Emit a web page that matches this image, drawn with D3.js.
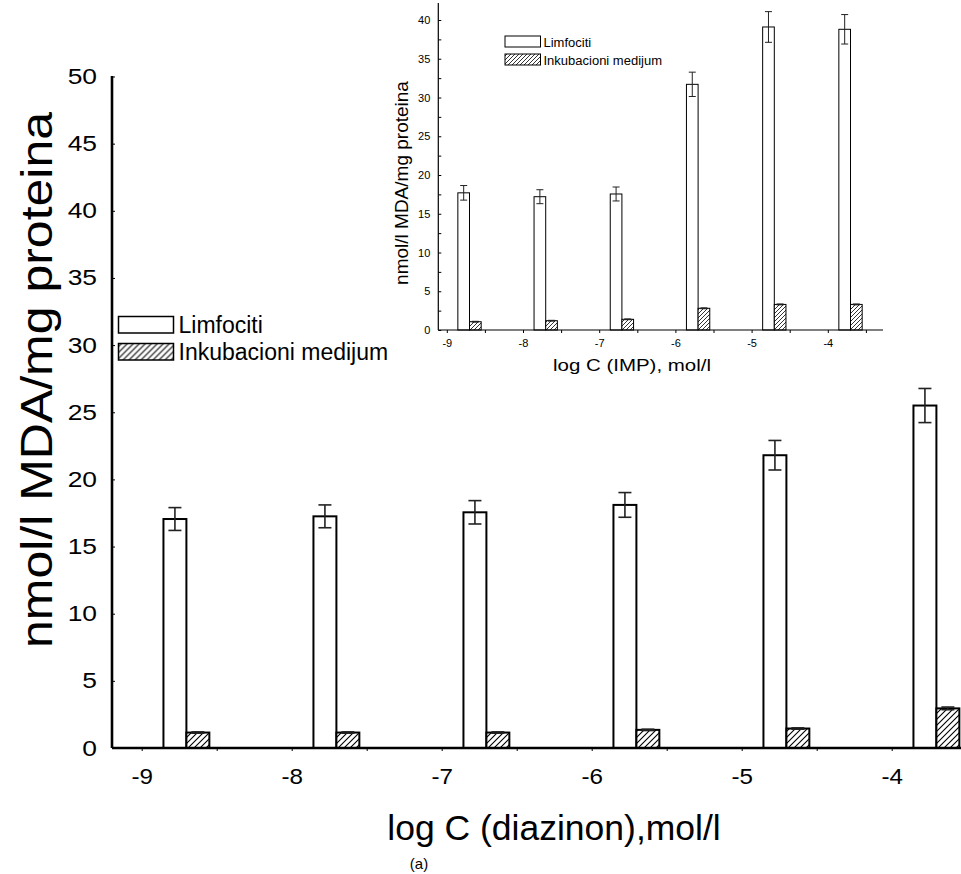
<!DOCTYPE html>
<html><head><meta charset="utf-8">
<script src="https://cdn.jsdelivr.net/npm/d3@7"></script>
<style>body{margin:0;background:#fff}svg{display:block}text{font-family:"Liberation Sans",Arial,sans-serif;fill:#000}</style>
</head><body>
<script>
// ---- data ----
const categories = [-9, -8, -7, -6, -5, -4];
const seriesNames = ["Limfociti", "Inkubacioni medijum"];
// main chart (diazinon)
const mainLimfociti = [17.05, 17.25, 17.55, 18.1, 21.8, 25.5];
const mainLimfocitiErr = [0.85, 0.85, 0.87, 0.92, 1.1, 1.27];
const mainMedijum = [1.15, 1.15, 1.15, 1.35, 1.45, 2.95];
const mainMedijumErr = [0.05, 0.05, 0.05, 0.05, 0.05, 0.1];
// inset chart (IMP)
const insetLimfociti = [17.7, 17.2, 17.55, 31.7, 39.1, 38.8];
const insetLimfocitiErr = [0.94, 0.9, 0.9, 1.57, 1.98, 1.9];
const insetMedijum = [1.07, 1.2, 1.38, 2.8, 3.3, 3.3];
const insetMedijumErr = [0.05, 0.05, 0.05, 0.06, 0.06, 0.06];
const mainYTicks = [0, 5, 10, 15, 20, 25, 30, 35, 40, 45, 50];
const insetYTicks = [0, 5, 10, 15, 20, 25, 30, 35, 40];
const insetYMinor = [2.5, 7.5, 12.5, 17.5, 22.5, 27.5, 32.5, 37.5];
const xMinor = [-9, -8.5, -8, -7.5, -7, -6.5, -6, -5.5, -5, -4.5, -4, -3.5];
const mainYTitle = "nmol/l MDA/mg proteina";
const mainXTitle = "log C (diazinon),mol/l";
const insetXTitle = "log C (IMP), mol/l";
const panelLabel = "(a)";

const W = 961, H = 874;
const svg = d3.select("body").append("svg").attr("width", W).attr("height", H);
const defs = svg.append("defs");
function hatch(id, s, sw) {
  const p = defs.append("pattern").attr("id", id).attr("patternUnits", "userSpaceOnUse")
    .attr("width", s).attr("height", s);
  p.append("rect").attr("width", s).attr("height", s).attr("fill", "#fff");
  p.append("path").attr("d", `M${-s/2},${s/2} l${s},${-s} M0,${s} l${s},${-s} M${s/2},${s*1.5} l${s},${-s}`)
    .attr("stroke", "#000").attr("stroke-width", sw);
}
hatch("hatchMain", 6, 1.1);
hatch("hatchInset", 4, 0.8);

function stretch(sel, sx) {
  sel.each(function () {
    const t = d3.select(this);
    const x0 = +t.attr("x") || 0;
    t.attr("transform", `translate(${x0},0) scale(${sx},1) translate(${-x0},0)`);
  });
}

function drawChart(g, o) {
  const x = d3.scaleLinear().domain([-9, -4]).range(o.xRange);
  const y = d3.scaleLinear().domain([0, o.yMax]).range(o.yRange);
  const bw = 0.153;
  const series = [
    {vals: o.limf, err: o.limfErr, off: 0.145, fill: "#fff"},
    {vals: o.med, err: o.medErr, off: 0.298, fill: `url(#${o.hatch})`}
  ];
  series.forEach(s => {
    g.selectAll(null).data(categories).enter().append("rect")
      .attr("x", (d) => x(d + s.off))
      .attr("width", (d) => x(d + s.off + bw) - x(d + s.off))
      .attr("y", (d, i) => y(s.vals[i]))
      .attr("height", (d, i) => y(0) - y(s.vals[i]))
      .attr("fill", s.fill).attr("stroke", "#000").attr("stroke-width", o.barSW);
    const eg = g.selectAll(null).data(categories).enter().append("g")
      .attr("stroke", "#222").attr("stroke-width", o.errSW);
    eg.append("line").attr("x1", d => x(d + s.off + bw/2)).attr("x2", d => x(d + s.off + bw/2))
      .attr("y1", (d, i) => y(s.vals[i] - s.err[i])).attr("y2", (d, i) => y(s.vals[i] + s.err[i]));
    [-1, 1].forEach(k => {
      eg.append("line").attr("x1", d => x(d + s.off + bw/2) - o.cap).attr("x2", d => x(d + s.off + bw/2) + o.cap)
        .attr("y1", (d, i) => y(s.vals[i] + k * s.err[i])).attr("y2", (d, i) => y(s.vals[i] + k * s.err[i]));
    });
  });
  // axes
  const ya = g.append("g").attr("transform", `translate(${o.yAxisX},0)`)
    .call(d3.axisLeft(y).tickValues(o.yTicks).tickFormat(d => String(d)).tickSizeInner(-o.tick).tickSizeOuter(0).tickPadding(o.yPad));
  ya.select(".domain").remove();
  ya.selectAll("line").attr("stroke", "#000").attr("stroke-width", 1);
  ya.selectAll("text").style("font-size", o.tickFont + "px").call(stretch, o.yStretch);
  if (o.yMinor) {
    g.append("g").attr("transform", `translate(${o.yAxisX},0)`)
      .call(d3.axisLeft(y).tickValues(o.yMinor).tickFormat("").tickSizeInner(-o.tick).tickSizeOuter(0))
      .call(a => a.select(".domain").remove()).selectAll("line").attr("stroke", "#000");
  }
  g.append("line").attr("x1", o.yAxisX).attr("x2", o.yAxisX).attr("y1", o.yTop).attr("y2", y(0))
    .attr("stroke", "#000").attr("stroke-width", o.axisSW);
  const xa = g.append("g").attr("transform", `translate(0,${y(0)})`)
    .call(d3.axisBottom(x).tickValues(xMinor).tickFormat(d => Number.isInteger(d) && d <= -4 ? String(d) : "")
      .tickSizeInner(o.tick).tickSizeOuter(0).tickPadding(o.xPad));
  xa.select(".domain").remove();
  xa.selectAll("line").attr("stroke", "#000");
  xa.selectAll("text").style("font-size", o.tickFont + "px").call(stretch, o.xStretch);
  g.append("line").attr("x1", o.yAxisX).attr("x2", o.xEnd).attr("y1", y(0)).attr("y2", y(0))
    .attr("stroke", "#000").attr("stroke-width", o.axisSW);
  // legend
  const lg = g.append("g").attr("transform", `translate(${o.leg[0]},${o.leg[1]})`);
  seriesNames.forEach((n, i) => {
    lg.append("rect").attr("x", 0).attr("y", i * o.legStep).attr("width", o.legBox[0]).attr("height", o.legBox[1])
      .attr("fill", i === 0 ? "#fff" : `url(#${o.hatch})`).attr("stroke", "#000").attr("stroke-width", o.legSW);
    lg.append("text").attr("x", o.legBox[0] + o.legGap).attr("y", i * o.legStep + o.legBox[1])
      .style("font-size", o.legFont + "px").text(n).call(stretch, o.legStretch);
  });
  return {x, y};
}

const main = svg.append("g");
drawChart(main, {
  xRange: [141.7, 891.7], yRange: [748, 76.5], yMax: 50, yTop: 76,
  limf: mainLimfociti, limfErr: mainLimfocitiErr, med: mainMedijum, medErr: mainMedijumErr,
  hatch: "hatchMain", barSW: 2, errSW: 1.6, cap: 6.5, yAxisX: 112, xEnd: 961,
  yTicks: mainYTicks, tick: 3, yPad: 15, xPad: 17, tickFont: 22, axisSW: 2.6, yStretch: 1.2, xStretch: 1.1,
  leg: [118.5, 316.5], legStep: 27, legBox: [55, 16.5], legGap: 5, legFont: 23, legSW: 1.5, legStretch: 1
});
main.append("text").attr("transform", "translate(52,380) rotate(-90) scale(1,0.88)").attr("text-anchor", "middle")
  .style("font-size", "50px").text(mainYTitle);
main.append("text").attr("x", 554).attr("y", 840).attr("text-anchor", "middle")
  .style("font-size", "35.5px").text(mainXTitle);
main.append("text").attr("x", 419).attr("y", 869).attr("text-anchor", "middle")
  .style("font-size", "15px").text(panelLabel);

const inset = svg.append("g");
drawChart(inset, {
  xRange: [446.8, 827.8], yRange: [330, 20], yMax: 40, yTop: 3,
  limf: insetLimfociti, limfErr: insetLimfocitiErr, med: insetMedijum, medErr: insetMedijumErr,
  hatch: "hatchInset", barSW: 1, errSW: 1, cap: 3.5, yAxisX: 438.3, xEnd: 883,
  yTicks: insetYTicks, yMinor: insetYMinor, tick: 3, yPad: 8, xPad: 6, tickFont: 11, axisSW: 1.2, yStretch: 1, xStretch: 1,
  leg: [505, 36], legStep: 18, legBox: [35.5, 11], legGap: 3, legFont: 12.5, legSW: 1, legStretch: 1.04
});
inset.append("text").attr("transform", "translate(408,183) rotate(-90)").attr("text-anchor", "middle")
  .style("font-size", "19px").text(mainYTitle);
inset.append("text").attr("x", 632).attr("y", 371).attr("text-anchor", "middle")
  .attr("textLength", 158).attr("lengthAdjust", "spacingAndGlyphs")
  .style("font-size", "16px").text(insetXTitle);
</script>
</body></html>
